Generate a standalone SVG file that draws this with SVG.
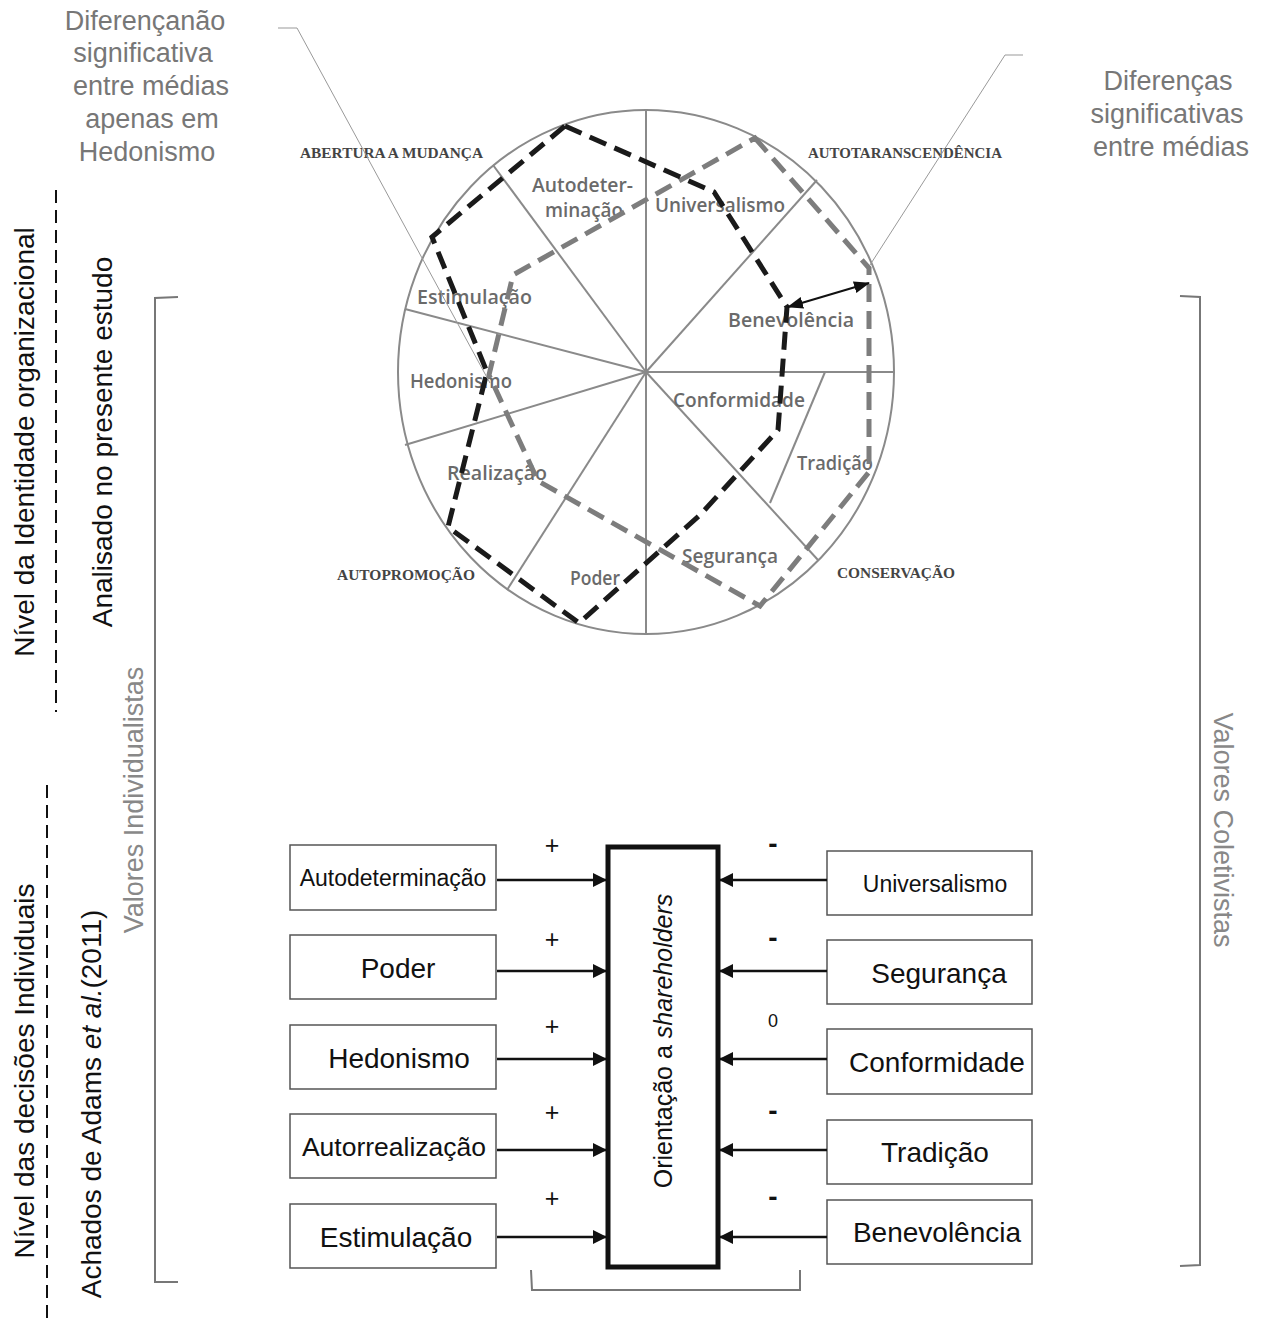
<svg xmlns="http://www.w3.org/2000/svg" width="1270" height="1323" viewBox="0 0 1270 1323">
<style>
.ann{font-family:"Liberation Sans",Arial,sans-serif;font-size:27px;fill:#777;text-anchor:middle}
.side{font-family:"Liberation Sans",Arial,sans-serif;font-size:28px;fill:#111}
.grayside{font-family:"Liberation Sans",Arial,sans-serif;font-size:27px;fill:#888}
.wheel{fill:none;stroke:#8a8a8a;stroke-width:2}
.wl{font-family:"Open Sans","DejaVu Sans",sans-serif;font-size:20px;fill:#6a6a6a;font-weight:600}
.sec{font-family:"Liberation Serif","Times New Roman",serif;font-size:14px;font-weight:bold;fill:#444}
.dk{fill:none;stroke:#1a1a1a;stroke-width:5;stroke-dasharray:18 9;stroke-linejoin:miter}
.gr{fill:none;stroke:#7d7d7d;stroke-width:5;stroke-dasharray:18 9;stroke-linejoin:miter}
.leader{fill:none;stroke:#999;stroke-width:1}
.box{fill:#fff;stroke:#555;stroke-width:1.5}
.bt{font-family:"Liberation Sans",Arial,sans-serif;font-size:28px;fill:#111;text-anchor:middle}
.bt.sm{font-size:23px}
.bt.md{font-size:26.5px}
.sign{font-family:"Liberation Sans",Arial,sans-serif;font-size:25px;fill:#111;text-anchor:middle}
.sign.m{font-size:28px;font-weight:bold}
.sign.z{font-size:18px}
.conn{stroke:#111;stroke-width:2.5;fill:none}
.brk{fill:none;stroke:#777;stroke-width:2}
.dash{stroke:#111;stroke-width:2;stroke-dasharray:13 7;fill:none}
</style>
<defs>
<marker id="ah" markerUnits="userSpaceOnUse" markerWidth="14" markerHeight="14" viewBox="0 0 14 14" refX="13" refY="7" orient="auto">
<path d="M0,0 L14,7 L0,14 Z" fill="#111"/>
</marker>
<marker id="sa" markerUnits="userSpaceOnUse" markerWidth="16" markerHeight="12" viewBox="0 0 16 12" refX="15" refY="6" orient="auto-start-reverse">
<path d="M0,0 L16,6 L0,12 Z" fill="#111"/>
</marker>
</defs>

<!-- annotations -->
<g id="annotation-left">
<text class="ann" x="145" y="30">Diferençanão</text>
<text class="ann" x="143" y="62">significativa</text>
<text class="ann" x="151" y="95">entre médias</text>
<text class="ann" x="152" y="128">apenas em</text>
<text class="ann" x="147" y="161">Hedonismo</text>
</g>
<g id="annotation-right">
<text class="ann" x="1168" y="90">Diferenças</text>
<text class="ann" x="1167" y="123">significativas</text>
<text class="ann" x="1171" y="156">entre médias</text>
</g>

<!-- side labels -->
<g id="side-labels">
<text class="side" transform="translate(34,442) rotate(-90)" text-anchor="middle">Nível da Identidade organizacional</text>
<text class="side" transform="translate(112,442) rotate(-90)" text-anchor="middle">Analisado no presente estudo</text>
<text class="side" transform="translate(34,1071) rotate(-90)" text-anchor="middle">Nível das decisões Individuais</text>
<text class="side" transform="translate(101,1104) rotate(-90)" text-anchor="middle">Achados de Adams <tspan font-style="italic">et al.</tspan>(2011)</text>
<text class="grayside" transform="translate(143,800) rotate(-90)" text-anchor="middle">Valores  Individualistas</text>
<text class="grayside" transform="translate(1214,830) rotate(90)" text-anchor="middle">Valores Coletivistas</text>
<line class="dash" x1="56" y1="190" x2="56" y2="712"/>
<line class="dash" x1="47" y1="785" x2="47" y2="1322"/>
<path class="brk" d="M178,297 L155,298 L155,1282 L178,1282"/>
<path class="brk" d="M1180,296 L1200,297 L1200,1265 L1180,1266"/>
<path class="brk" d="M531,1270 L532,1290 L800,1290 L800,1270"/>
</g>

<!-- value wheel -->
<g id="wheel">
<ellipse class="wheel" cx="646" cy="372" rx="248" ry="262"/>
<line class="wheel" x1="646" y1="110" x2="646" y2="634"/>
<line class="wheel" x1="646" y1="372" x2="894" y2="372"/>
<line class="wheel" x1="646" y1="372" x2="493" y2="165"/>
<line class="wheel" x1="646" y1="372" x2="405" y2="309"/>
<line class="wheel" x1="646" y1="372" x2="405" y2="445"/>
<line class="wheel" x1="646" y1="372" x2="507" y2="590"/>
<line class="wheel" x1="646" y1="372" x2="817" y2="180"/>
<line class="wheel" x1="646" y1="372" x2="818" y2="560"/>
<line class="wheel" x1="825" y1="372" x2="770" y2="503"/>
<text class="wl" x="532" y="192" textLength="101" lengthAdjust="spacingAndGlyphs">Autodeter-</text>
<text class="wl" x="545" y="217" textLength="78" lengthAdjust="spacingAndGlyphs">minação</text>
<text class="wl" x="655" y="212" textLength="130" lengthAdjust="spacingAndGlyphs">Universalismo</text>
<text class="wl" x="417" y="304" textLength="115" lengthAdjust="spacingAndGlyphs">Estimulação</text>
<text class="wl" x="728" y="327" textLength="126" lengthAdjust="spacingAndGlyphs">Benevolência</text>
<text class="wl" x="410" y="388" textLength="102" lengthAdjust="spacingAndGlyphs">Hedonismo</text>
<text class="wl" x="673" y="407" textLength="132" lengthAdjust="spacingAndGlyphs">Conformidade</text>
<text class="wl" x="797" y="470" textLength="76" lengthAdjust="spacingAndGlyphs">Tradição</text>
<text class="wl" x="447" y="480" textLength="100" lengthAdjust="spacingAndGlyphs">Realização</text>
<text class="wl" x="682" y="563" textLength="96" lengthAdjust="spacingAndGlyphs">Segurança</text>
<text class="wl" x="570" y="585" textLength="50" lengthAdjust="spacingAndGlyphs">Poder</text>
<text class="sec" x="300" y="158" textLength="183" lengthAdjust="spacingAndGlyphs">ABERTURA A MUDANÇA</text>
<text class="sec" x="808" y="158" textLength="194" lengthAdjust="spacingAndGlyphs">AUTOTARANSCENDÊNCIA</text>
<text class="sec" x="337" y="580" textLength="138" lengthAdjust="spacingAndGlyphs">AUTOPROMOÇÃO</text>
<text class="sec" x="837" y="578" textLength="118" lengthAdjust="spacingAndGlyphs">CONSERVAÇÃO</text>
<polygon class="gr" points="755,138 869,268 869,472 760,606 538,481 489,375 513,275"/>
<polygon class="dk" points="565,126 714,192 787,307 778,430 700,515 579,623 448,527 487,372 432,237"/>
<line x1="869" y1="283" x2="788" y2="307" stroke="#111" stroke-width="2" marker-start="url(#sa)" marker-end="url(#sa)"/>
<polyline class="leader" points="278,28 297,28 490,383"/>
<polyline class="leader" points="1023,55 1005,55 870,265"/>
</g>

<!-- nodes -->
<g id="node-orientacao">
<rect x="608" y="847" width="110" height="420" fill="#fff" stroke="#111" stroke-width="5"/>
<text transform="translate(672,1041) rotate(-90)" text-anchor="middle" font-family="Liberation Sans, Arial, sans-serif" font-size="25" fill="#111">Orientação a <tspan font-style="italic">shareholders</tspan></text>
</g>
<g id="node-autodeterminacao"><rect class="box" x="290" y="845" width="206" height="65"/><text class="bt sm" x="393" y="886">Autodeterminação</text></g>
<g id="node-poder"><rect class="box" x="290" y="935" width="206" height="64"/><text class="bt" x="398" y="978">Poder</text></g>
<g id="node-hedonismo"><rect class="box" x="290" y="1025" width="206" height="64"/><text class="bt" x="399" y="1068">Hedonismo</text></g>
<g id="node-autorrealizacao"><rect class="box" x="290" y="1114" width="206" height="64"/><text class="bt md" x="394" y="1156">Autorrealização</text></g>
<g id="node-estimulacao"><rect class="box" x="290" y="1204" width="206" height="64"/><text class="bt" x="396" y="1247">Estimulação</text></g>
<g id="node-universalismo"><rect class="box" x="827" y="851" width="205" height="64"/><text class="bt sm" x="935" y="892">Universalismo</text></g>
<g id="node-seguranca"><rect class="box" x="827" y="940" width="205" height="64"/><text class="bt" x="939" y="983">Segurança</text></g>
<g id="node-conformidade"><rect class="box" x="827" y="1029" width="205" height="65"/><text class="bt" x="937" y="1072">Conformidade</text></g>
<g id="node-tradicao"><rect class="box" x="827" y="1120" width="205" height="64"/><text class="bt" x="935" y="1162">Tradição</text></g>
<g id="node-benevolencia"><rect class="box" x="827" y="1200" width="205" height="64"/><text class="bt" x="937" y="1242">Benevolência</text></g>

<!-- connectors -->
<g id="connectors">
<line class="conn" x1="497" y1="880" x2="606" y2="880" marker-end="url(#ah)"/>
<line class="conn" x1="497" y1="971" x2="606" y2="971" marker-end="url(#ah)"/>
<line class="conn" x1="497" y1="1059" x2="606" y2="1059" marker-end="url(#ah)"/>
<line class="conn" x1="497" y1="1150" x2="606" y2="1150" marker-end="url(#ah)"/>
<line class="conn" x1="497" y1="1237" x2="606" y2="1237" marker-end="url(#ah)"/>
<line class="conn" x1="827" y1="880" x2="720" y2="880" marker-end="url(#ah)"/>
<line class="conn" x1="827" y1="971" x2="720" y2="971" marker-end="url(#ah)"/>
<line class="conn" x1="827" y1="1059" x2="720" y2="1059" marker-end="url(#ah)"/>
<line class="conn" x1="827" y1="1150" x2="720" y2="1150" marker-end="url(#ah)"/>
<line class="conn" x1="827" y1="1237" x2="720" y2="1237" marker-end="url(#ah)"/>
<text class="sign" x="552" y="854">+</text>
<text class="sign" x="552" y="948">+</text>
<text class="sign" x="552" y="1035">+</text>
<text class="sign" x="552" y="1121">+</text>
<text class="sign" x="552" y="1207">+</text>
<text class="sign m" x="773" y="853">-</text>
<text class="sign m" x="773" y="947">-</text>
<text class="sign z" x="773" y="1027">0</text>
<text class="sign m" x="773" y="1120">-</text>
<text class="sign m" x="773" y="1206">-</text>
</g>
</svg>
